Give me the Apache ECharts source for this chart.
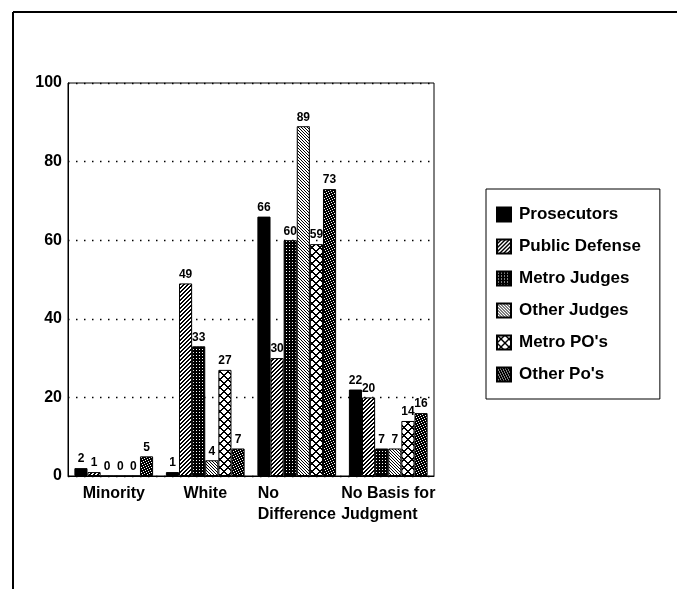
<!DOCTYPE html>
<html>
<head>
<meta charset="utf-8">
<script src="https://cdn.jsdelivr.net/npm/echarts@6/dist/echarts.min.js"></script>
<style>
html,body{margin:0;padding:0;background:#fff;}
#chart{width:677px;height:589px;}
</style>
</head>
<body>
<div id="chart"></div>
<script>
// ---- data ----
const categories = ['Minority', 'White', 'No\nDifference', 'No Basis for\nJudgment'];
const seriesNames = ['Prosecutors', 'Public Defense', 'Metro Judges', 'Other Judges', "Metro PO's", "Other Po's"];
const prosecutors   = [2, 1, 66, 22];
const publicDefense = [1, 49, 30, 20];
const metroJudges   = [0, 33, 60, 7];
const otherJudges   = [0, 4, 89, 7];
const metroPOs      = [0, 27, 59, 14];
const otherPos      = [5, 7, 73, 16];
const yTicks = [0, 20, 40, 60, 80, 100];

const seriesValues = [prosecutors, publicDefense, metroJudges, otherJudges, metroPOs, otherPos];

// ---- patterns ----
function tile(n, fn) {
  const c = document.createElement('canvas');
  c.width = n; c.height = n;
  const ctx = c.getContext('2d');
  ctx.fillStyle = '#fff';
  ctx.fillRect(0, 0, n, n);
  ctx.fillStyle = '#000';
  for (let y = 0; y < n; y++) for (let x = 0; x < n; x++) if (fn(x, y, n)) ctx.fillRect(x, y, 1, 1);
  return { image: c, repeat: 'repeat' };
}
const fills = [
  '#000',
  tile(4, (x, y, n) => ((x + y) % n === n - 1) || ((x + y) % n === 0)),
  tile(3, (x, y) => !(x === 1 && y === 1)),
  tile(3, (x, y) => ((x - y + 3) % 3 === 0)),
  tile(8, (x, y) => { const a = (x - y + 8) % 8, b = (x + y) % 8; return a <= 1 || b >= 6 && b <= 7; }),
  tile(5, (x, y) => ((x + 2 * y) % 5 !== 0))
];

const chart = echarts.init(document.getElementById('chart'), null, { renderer: 'canvas' });
const FONT = '"Liberation Sans", Arial, Helvetica, sans-serif';

chart.setOption({
  animation: false,
  backgroundColor: '#fff',
  textStyle: { fontFamily: FONT, color: '#000' },
  grid: { left: 68, top: 83, right: 243, bottom: 113, show: true, borderColor: '#000', borderWidth: 1, backgroundColor: 'transparent' },
  legend: {
    orient: 'vertical',
    left: 486, top: 189,
    padding: [17, 19, 16, 10],
    borderColor: '#000', borderWidth: 1,
    itemWidth: 14, itemHeight: 14, itemGap: 15,
    icon: 'rect',
    textStyle: { fontFamily: FONT, fontSize: 17, fontWeight: 'bold', color: '#000', padding: [0, 0, 0, 3] },
    data: seriesNames
  },
  xAxis: {
    type: 'category',
    data: categories,
    axisLine: { lineStyle: { color: '#000', width: 1 } },
    axisTick: { show: false },
    axisLabel: {
      interval: 0,
      margin: 7,
      fontFamily: FONT, fontSize: 16, fontWeight: 'bold', color: '#000',
      lineHeight: 21,
      formatter: function (v) { return v.split('\n').map(s => '{l|' + s + '}').join('\n'); },
      rich: { l: { width: '100%', align: 'left', fontFamily: FONT, fontSize: 16, fontWeight: 'bold', color: '#000', lineHeight: 21 } }
    }
  },
  yAxis: {
    type: 'value',
    min: 0, max: 100, interval: 20,
    axisLine: { show: true, lineStyle: { color: '#000', width: 1 } },
    axisTick: { show: false },
    axisLabel: { margin: 6, fontFamily: FONT, fontSize: 16, fontWeight: 'bold', color: '#000',
      formatter: v => (yTicks.indexOf(v) >= 0 ? String(v) : '') },
    splitLine: { show: true, lineStyle: { color: '#000', width: 1.3, type: [1.5, 6.5] } }
  },
  series: seriesNames.map((name, i) => ({
    name: name,
    type: 'bar',
    data: seriesValues[i],
    barGap: '0%',
    barCategoryGap: '14%',
    itemStyle: { color: fills[i], borderColor: '#000', borderWidth: 1 },
    label: { show: true, position: 'top', distance: 3, fontFamily: FONT, fontSize: 12, fontWeight: 'bold', color: '#000' }
  })),
  graphic: [
    { type: 'line', shape: { x1: 13, y1: 12, x2: 13, y2: 589 }, style: { stroke: '#000', lineWidth: 2 } },
    { type: 'line', shape: { x1: 13, y1: 12, x2: 677, y2: 12 }, style: { stroke: '#000', lineWidth: 2 } }
  ]
});
</script>
</body>
</html>
